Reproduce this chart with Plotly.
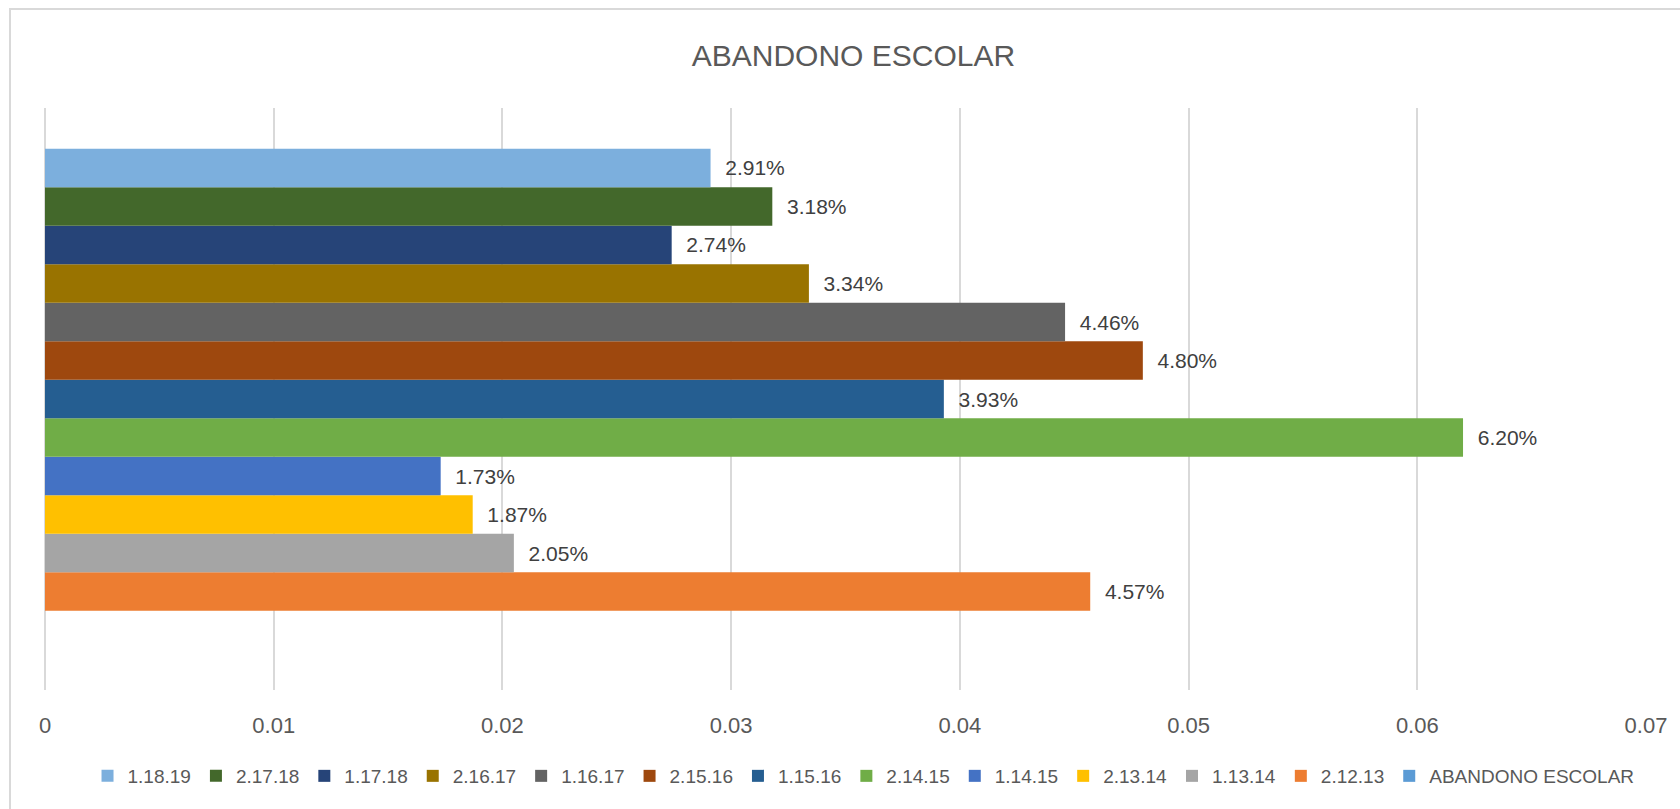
import plotly.graph_objects as go

# data (share of students, bottom series first)
series = ['ABANDONO ESCOLAR', '2.12.13', '1.13.14', '2.13.14', '1.14.15', '2.14.15',
          '1.15.16', '2.15.16', '1.16.17', '2.16.17', '1.17.18', '2.17.18', '1.18.19']
values = [None, 0.0457, 0.0205, 0.0187, 0.0173, 0.0620,
          0.0393, 0.0480, 0.0446, 0.0334, 0.0274, 0.0318, 0.0291]
colors = ['#5B9BD5', '#ED7D31', '#A5A5A5', '#FFC000', '#4472C4', '#70AD47',
          '#255E91', '#9E480E', '#636363', '#997300', '#264478', '#43682B', '#7CAFDD']
category = ['ABANDONO ESCOLAR']
x_ticks = [0, 0.01, 0.02, 0.03, 0.04, 0.05, 0.06, 0.07]

FONT = 'Liberation Sans, Arial, sans-serif'
GREY = '#595959'

fig = go.Figure()
n = len(series)
for i, (name, v, c) in enumerate(zip(series, values, colors)):
    fig.add_trace(go.Bar(
        x=[v], y=category, orientation='h', name=name,
        marker=dict(color=c, line=dict(width=0)),
        text=['\u00a0\u00a0' + '{:.2%}'.format(v)] if v is not None else None,
        textposition='outside', cliponaxis=False,
        textfont=dict(size=21, color='#404040', family=FONT),
        legendrank=n - i,
        hovertemplate='%{x:.2%}<extra>' + name + '</extra>'))

fig.update_layout(
    width=1680, height=809,
    paper_bgcolor='white', plot_bgcolor='white',
    margin=dict(l=45, r=34, t=108, b=119, autoexpand=False),
    title=dict(text='ABANDONO ESCOLAR', xref='container', x=0.508, xanchor='center',
               yref='container', y=1 - 55 / 809, yanchor='middle',
               font=dict(size=30, color=GREY, family=FONT)),
    font=dict(family=FONT, color=GREY),
    barmode='group', bargap=0.14, bargroupgap=0,
    xaxis=dict(range=[0, 0.07], tickvals=x_ticks, ticktext=[str(t) for t in x_ticks],
               showgrid=True, gridcolor='#D9D9D9', gridwidth=1.5,
               zeroline=True, zerolinecolor='#D9D9D9', zerolinewidth=1.5,
               showline=False, ticks='', ticklabelstandoff=20, automargin=False,
               tickfont=dict(size=22, color=GREY)),
    yaxis=dict(showticklabels=False, showgrid=False, zeroline=False, showline=False,
               automargin=False),
    legend=dict(orientation='h', xref='container', x=0.514, xanchor='center',
                yref='container', y=33 / 809, yanchor='middle',
                font=dict(size=19, color=GREY), itemwidth=30, traceorder='normal'),
    shapes=[dict(type='rect', xref='paper', yref='paper',
                 x0=-35 / 1601, x1=1.2, y0=-0.4, y1=1 + 99 / 582,
                 line=dict(color='#D9D9D9', width=2), fillcolor='rgba(0,0,0,0)',
                 layer='below')],
)

# drop the default page margin so the chart sits at the window origin
fig.write_html('out.html', config={'displayModeBar': False},
               post_script="document.body.style.margin='0';")
